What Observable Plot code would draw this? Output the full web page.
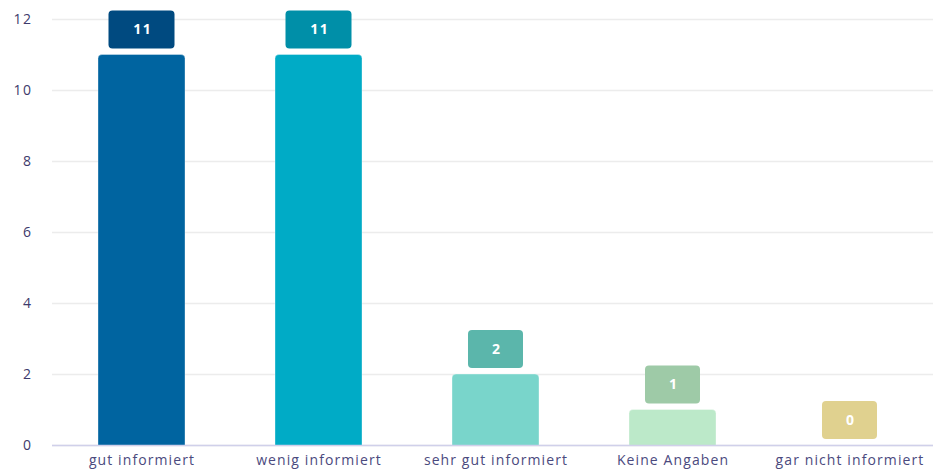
<!DOCTYPE html>
<html>
<head>
<meta charset="utf-8">
<script src="https://cdn.jsdelivr.net/npm/d3@7"></script>
<script src="https://cdn.jsdelivr.net/npm/@observablehq/plot@0.6"></script>
<style>
  html, body { margin: 0; padding: 0; background: #fff; }
  #chart svg { display: block; }
  #chart svg g[aria-label="x-axis tick label"] text { letter-spacing: 1.1px; }
  #chart svg g[aria-label="y-axis tick label"] text { letter-spacing: 1.5px; }
  #chart svg g.value-labels text { letter-spacing: 1.5px; }
</style>
</head>
<body>
<div id="chart"></div>
<script>
const categories = ["gut informiert", "wenig informiert", "sehr gut informiert", "Keine Angaben", "gar nicht informiert"];
const values = [11, 11, 2, 1, 0];
const barColors = ["#0064a0", "#00abc6", "#79d5cb", "#bce9c9", "#f0e6b8"];
const labelColors = ["#004a80", "#008fa8", "#5bb6ab", "#9ecaa7", "#e0d18f"];
const yTicks = [0, 2, 4, 6, 8, 10, 12];

const data = categories.map((c, i) => ({cat: c, value: values[i], color: barColors[i], labelColor: labelColors[i]}));
const font = "'Open Sans', sans-serif";

const chart = Plot.plot({
  width: 933,
  height: 473,
  marginLeft: 52,
  marginRight: 0,
  marginTop: 19,
  marginBottom: 28,
  style: {fontFamily: font, background: "white"},
  color: {type: "identity"},
  x: {domain: categories, range: [52, 939], paddingInner: 0.51, paddingOuter: 0.255, label: null},
  y: {domain: [0, 12], label: null},
  marks: [
    Plot.gridY(yTicks, {stroke: "#ececec", strokeOpacity: 1, strokeWidth: 1.5}),
    Plot.axisY(yTicks, {tickSize: 0, tickPadding: 20, fontSize: 14, fill: "#3d3a6b", label: null}),
    Plot.axisX({tickSize: 0, tickPadding: 10, fontSize: 14, fill: "#4b4a7e", label: null}),
    Plot.barY(data, {x: "cat", y1: 0, y2: "value", fill: "color", rx: 4, insetBottom: -8, clip: true, stroke: "white", strokeOpacity: 0.35, strokeWidth: 1}),
    Plot.ruleY([0], {stroke: "#d0d0ea", strokeWidth: 1.5}),
    Plot.barY(data.filter(d => String(d.value).length > 1), {x: "cat", y1: "value", y2: "value", insetTop: -44, insetBottom: 6, insetLeft: 10.5, insetRight: 10.5, fill: "labelColor", rx: 4}),
    Plot.barY(data.filter(d => String(d.value).length === 1), {x: "cat", y1: "value", y2: "value", insetTop: -44, insetBottom: 6, insetLeft: 16, insetRight: 16, fill: "labelColor", rx: 4}),
    Plot.text(data, {x: "cat", y: "value", text: d => String(d.value), dy: -25, dx: 0.75, fill: "white", fontSize: 14, fontWeight: "bold", fontFamily: font, className: "value-labels"})
  ]
});
document.getElementById("chart").appendChild(chart);
</script>
</body>
</html>
